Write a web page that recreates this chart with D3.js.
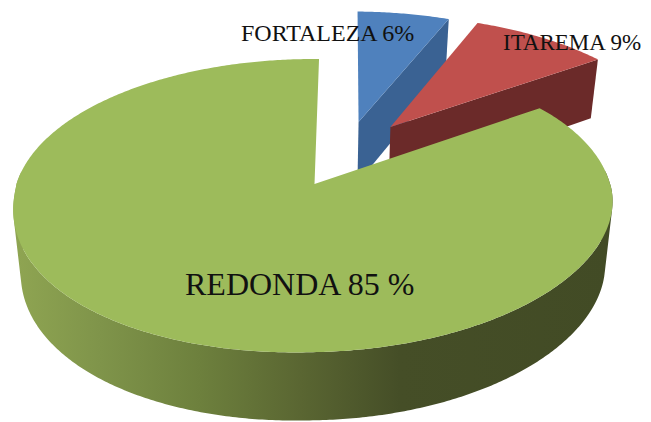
<!DOCTYPE html>
<html>
<head>
<meta charset="utf-8">
<script src="https://cdnjs.cloudflare.com/ajax/libs/d3/7.8.5/d3.min.js"></script>
<style>html,body{margin:0;padding:0;background:#fff}svg{display:block}</style>
</head>
<body>
<script>
const categories = ["FORTALEZA", "ITAREMA", "REDONDA"];
const values = [6, 9, 85];
const labels = ["FORTALEZA 6%", "ITAREMA 9%", "REDONDA 85 %"];

const topColors = ["#4f81bd", "#c0504d", "#9dbb5b"];
const wallColors = ["#3a6293", "#6b2a29", "url(#wall)"];
// ground-plane shift of each exploded slice (u = right, v = back)
const explodeU = [0.158, 0.271, 0];
const explodeV = [0.461, 0.422, 0];
const labelX = [241, 503, 185];
const labelY = [41, 50, 295];
const labelSize = [24, 23, 32];

const width = 651, height = 422;
const cx = 314.5, cy = 184, R = 298, Ry = 143.4, k = 0.147, D = 63, zShrink = 0.975;
const rotation = Math.PI / 180;

const svg = d3.select("body").append("svg").attr("width", width).attr("height", height);
const defs = svg.append("defs");
const grad = defs.append("linearGradient").attr("id", "wall")
  .attr("gradientUnits", "userSpaceOnUse").attr("x1", 14).attr("x2", 610).attr("y1", 0).attr("y2", 0);
[[14, "#8fa552"], [100, "#7f944a"], [200, "#6d803d"], [300, "#5a6632"], [400, "#454e27"], [610, "#424b25"]]
  .forEach(([x, c]) => grad.append("stop").attr("offset", (x - 14) / 596).attr("stop-color", c));

function project(u, v, z) {
  const s = 1 / (1 + k * v);
  // the photographed pie is slightly skewed on its front half
  const front = Math.max(0, -v);
  const tilt = (u < 0 ? -11 : -6) * u * Math.sqrt(front);
  const squeeze = u > 0 ? 5 * u * Math.max(0, 0.5 - v) : 0;
  return [cx + (R * u * s - squeeze) * (z ? zShrink : 1),
          cy - Ry * v * s + tilt + (z ? D * Math.sqrt(s) : 0)];
}
const line = d3.line();

const arcs = d3.pie().sort(null).startAngle(rotation).endAngle(2 * Math.PI + rotation)(values);

function rim(a, i, z, front) {
  const n = Math.ceil((a.endAngle - a.startAngle) / 0.01);
  let pts = d3.range(n + 1).map(j => a.startAngle + (a.endAngle - a.startAngle) * j / n);
  if (front) pts = pts.filter(t => Math.cos(t) < 0.1);
  return pts.map(t => project(explodeU[i] + Math.sin(t), explodeV[i] + Math.cos(t), z));
}

const g = svg.append("g");
arcs.forEach((a, i) => {
  const apexT = project(explodeU[i], explodeV[i], 0);
  const apexB = project(explodeU[i], explodeV[i], 1);
  const topRim = rim(a, i, 0, false);
  const botRim = rim(a, i, 1, false);
  if (i < 2) {
    const endT = topRim[topRim.length - 1], endB = botRim[botRim.length - 1];
    g.append("path").attr("d", line([apexT, endT, endB, apexB]) + "Z").attr("fill", wallColors[i]);
  } else {
    // sweep the rim downwards, one same-wound quad per sample, so the side silhouette is filled
    const ft = rim(a, i, 0, true), fb = rim(a, i, 1, true);
    const d = d3.range(ft.length - 1).map(j => {
      const q = [ft[j], ft[j + 1], fb[j + 1], fb[j]];
      return line(d3.polygonArea(q) < 0 ? q.reverse() : q) + "Z";
    }).join("");
    g.append("path").attr("d", d).attr("fill", wallColors[i]);
  }
  g.append("path").attr("d", line([apexT].concat(topRim)) + "Z").attr("fill", topColors[i]);
});

svg.append("g").selectAll("text").data(labels).join("text")
  .attr("x", (d, i) => labelX[i]).attr("y", (d, i) => labelY[i])
  .attr("font-family", "'Liberation Serif','Times New Roman',serif")
  .attr("font-size", (d, i) => labelSize[i]).attr("fill", "#111")
  .text(d => d);
</script>
</body>
</html>
